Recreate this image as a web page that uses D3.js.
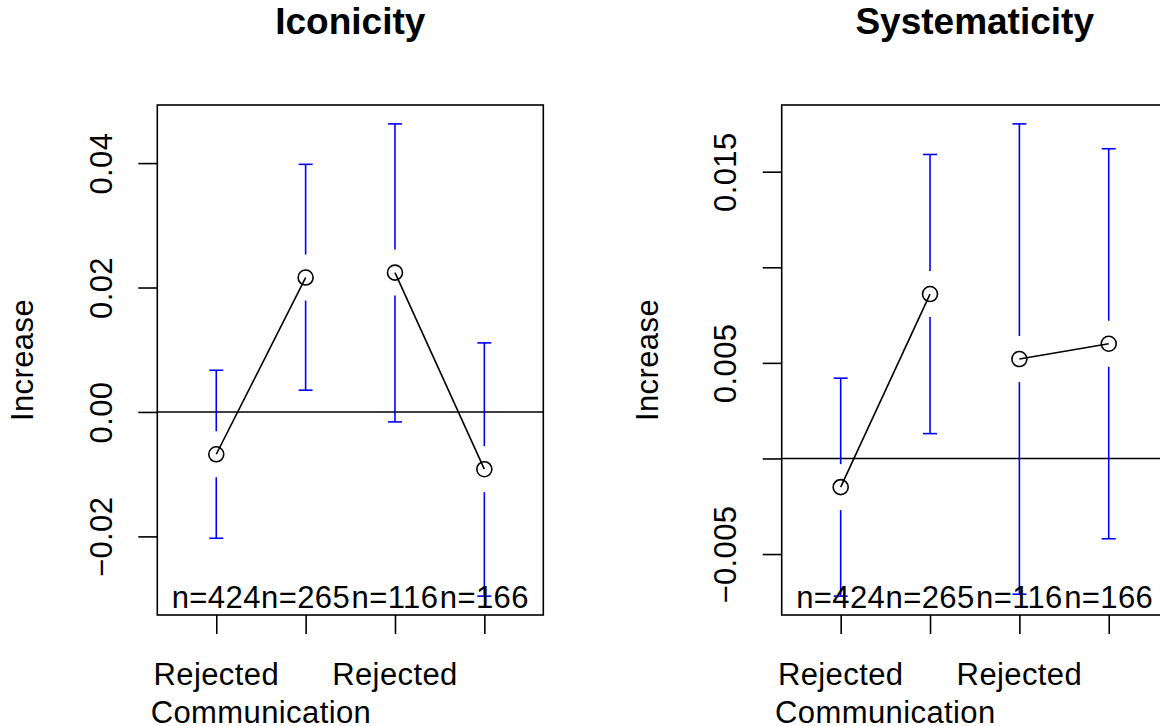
<!DOCTYPE html>
<html>
<head>
<meta charset="utf-8">
<script src="https://cdn.jsdelivr.net/npm/d3@7"></script>
<style>
  html, body { margin: 0; padding: 0; background: #fff; }
  svg { display: block; font-family: "Liberation Sans", Arimo, Helvetica, Arial, sans-serif; }
  .lbl { letter-spacing: 0.4px; }
</style>
</head>
<body>
<svg id="chart" width="1160" height="726"></svg>
<script>
// Group positions along the x axis
const positions = [1, 2, 3, 4];
const sampleLabels = ["n=424", "n=265", "n=116", "n=166"];

// Axis labels below the groups
const xLabelPos = [1, 3, 1.5];
const xLabelText = ["Rejected", "Rejected", "Communication"];
const xLabelLine = [0, 0, 1];

// Iconicity: mean increase with confidence bounds
const iconMean  = [-0.0068, 0.0216, 0.0224, -0.0092];
const iconLower = [-0.0203, 0.0035, -0.0016, -0.0296];
const iconUpper = [ 0.0067, 0.0398, 0.0463, 0.0111];
const iconTicks = [-0.02, 0.00, 0.02, 0.04];
const iconTickLabels = ["\u22120.02", "0.00", "0.02", "0.04"];

// Systematicity: mean increase with confidence bounds
const sysMean  = [-0.0015, 0.0086, 0.0052, 0.0060];
const sysLower = [-0.0072, 0.0013, -0.0071, -0.0042];
const sysUpper = [ 0.0042, 0.0159, 0.0175, 0.0162];
const sysTicks = [-0.005, 0.000, 0.005, 0.010, 0.015];
const sysTickLabels = ["\u22120.005", "", "0.005", "", "0.015"];

const panels = [
  { title: "Iconicity", left: 157.3, mean: iconMean, lower: iconLower, upper: iconUpper,
    ticks: iconTicks, tickLabels: iconTickLabels },
  { title: "Systematicity", left: 781.7, mean: sysMean, lower: sysLower, upper: sysUpper,
    ticks: sysTicks, tickLabels: sysTickLabels }
];

const svg = d3.select("#chart");
const frameW = 386, frameTop = 105, frameBottom = 615;
const FS = 31, LW = 1.6, TICK = 19, GAP = 23, CAP = 7;

panels.forEach(p => {
  const g = svg.append("g");
  const x0 = p.left, x1 = p.left + frameW;

  // x extent 0.5..4.5 with the usual 4% padding
  const xr = [0.5, 4.5];
  const xpad = (xr[1] - xr[0]) * 0.04;
  const x = d3.scaleLinear().domain([xr[0] - xpad, xr[1] + xpad]).range([x0, x1]);

  // y extent from the confidence bounds with 4% padding
  const lo = d3.min(p.lower), hi = d3.max(p.upper);
  const ypad = (hi - lo) * 0.04;
  const y = d3.scaleLinear().domain([lo - ypad, hi + ypad]).range([frameBottom, frameTop]);

  // zero reference line
  g.append("line")
    .attr("x1", x0).attr("x2", x1)
    .attr("y1", y(0)).attr("y2", y(0))
    .attr("stroke", "#000").attr("stroke-width", LW);

  // error bars with a gap around each point
  const bars = g.append("g").attr("stroke", "#0000ff").attr("stroke-width", LW).attr("fill", "none");
  positions.forEach((pos, i) => {
    const cx = x(pos), cy = y(p.mean[i]);
    const yu = y(p.upper[i]), yl = y(p.lower[i]);
    if (cy - GAP > yu) bars.append("line").attr("x1", cx).attr("x2", cx).attr("y1", yu).attr("y2", cy - GAP);
    if (cy + GAP < yl) bars.append("line").attr("x1", cx).attr("x2", cx).attr("y1", cy + GAP).attr("y2", yl);
    bars.append("line").attr("x1", cx - CAP).attr("x2", cx + CAP).attr("y1", yu).attr("y2", yu);
    bars.append("line").attr("x1", cx - CAP).attr("x2", cx + CAP).attr("y1", yl).attr("y2", yl);
  });

  // connecting lines within each pair
  const line = d3.line().x(d => x(d.pos)).y(d => y(d.v));
  [[0, 1], [2, 3]].forEach(pair => {
    g.append("path")
      .datum(pair.map(i => ({ pos: positions[i], v: p.mean[i] })))
      .attr("d", line)
      .attr("fill", "none").attr("stroke", "#000").attr("stroke-width", LW);
  });

  // points
  g.selectAll("circle.pt").data(positions).enter().append("circle")
    .attr("class", "pt")
    .attr("cx", d => x(d)).attr("cy", (d, i) => y(p.mean[i]))
    .attr("r", 7.5).attr("fill", "none").attr("stroke", "#000").attr("stroke-width", LW);

  // sample sizes
  g.selectAll("text.n").data(sampleLabels).enter().append("text")
    .attr("class", "n lbl")
    .attr("x", (d, i) => x(positions[i])).attr("y", 608)
    .attr("text-anchor", "middle").attr("font-size", FS)
    .text(d => d);

  // frame
  g.append("rect")
    .attr("x", x0).attr("y", frameTop).attr("width", frameW).attr("height", frameBottom - frameTop)
    .attr("fill", "none").attr("stroke", "#000").attr("stroke-width", LW);

  // y axis
  const yAxis = g.append("g").attr("transform", `translate(${x0},0)`)
    .call(d3.axisLeft(y).tickValues(p.ticks).tickSize(TICK)
      .tickFormat((d, i) => p.tickLabels[i]));
  yAxis.select(".domain").remove();
  yAxis.selectAll(".tick line").attr("stroke", "#000").attr("stroke-width", LW);
  yAxis.selectAll(".tick text")
    .attr("class", "lbl")
    .attr("transform", "rotate(-90)")
    .attr("x", 0).attr("y", -45.8).attr("dy", 0)
    .attr("text-anchor", "middle")
    .attr("font-size", FS).attr("fill", "#000")
    .style("font-family", "inherit");

  // x axis ticks
  const xAxis = g.append("g").attr("transform", `translate(0,${frameBottom})`)
    .call(d3.axisBottom(x).tickValues(positions).tickSize(TICK).tickFormat(""));
  xAxis.select(".domain").remove();
  xAxis.selectAll(".tick line").attr("stroke", "#000").attr("stroke-width", LW);

  // x labels
  xLabelText.forEach((t, i) => {
    g.append("text")
      .attr("class", "lbl")
      .attr("x", x(xLabelPos[i]))
      .attr("y", 685 + xLabelLine[i] * 37.5)
      .attr("text-anchor", "middle").attr("font-size", FS)
      .text(t);
  });

  // y axis title
  g.append("text")
    .attr("class", "lbl")
    .attr("transform", `translate(${x0 - 124},${(frameTop + frameBottom) / 2}) rotate(-90)`)
    .attr("text-anchor", "middle").attr("font-size", FS)
    .text("Increase");

  // panel title
  g.append("text")
    .attr("x", (x0 + x1) / 2).attr("y", 34)
    .attr("text-anchor", "middle").attr("font-size", 37).attr("font-weight", "bold")
    .text(p.title);
});
</script>
</body>
</html>
